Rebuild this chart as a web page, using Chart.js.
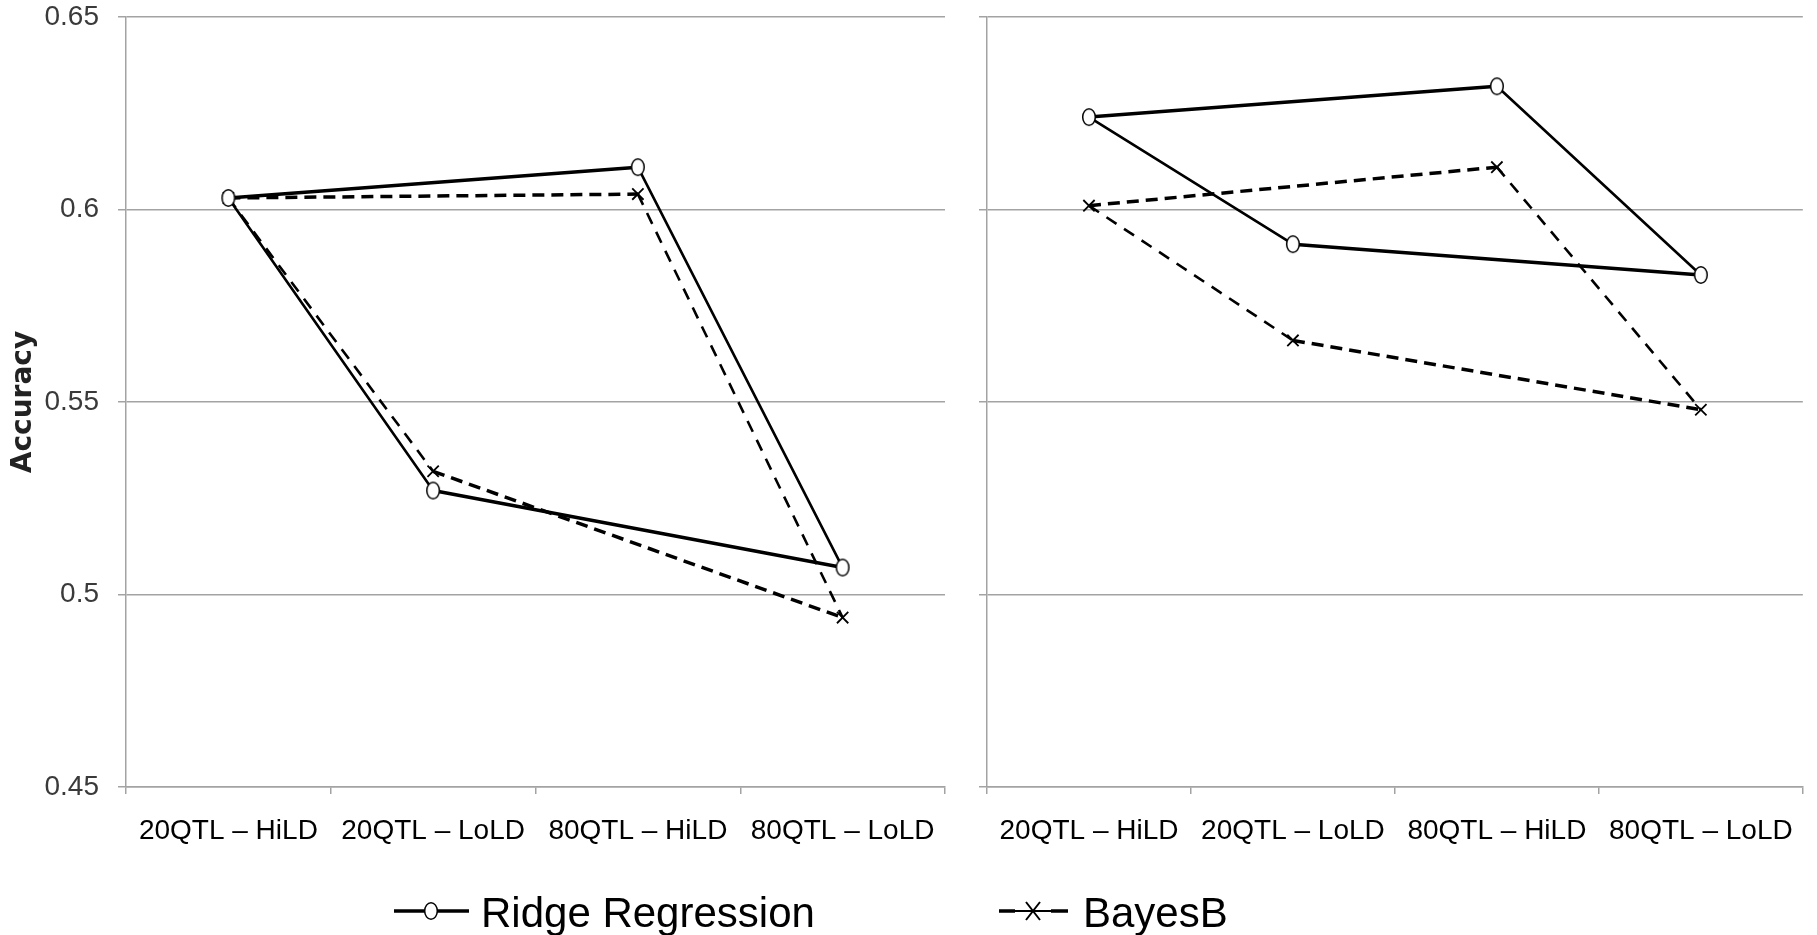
<!DOCTYPE html>
<html>
<head>
<meta charset="utf-8">
<script src="https://cdn.jsdelivr.net/npm/chart.js@4"></script>
<style>
  html, body { margin: 0; padding: 0; background: #fff; }
  #wrap { position: relative; width: 1817px; height: 935px; }
  #wrap canvas { position: absolute; top: 0; }
  #left-panel { left: 0; }
  #right-panel { left: 960px; }
</style>
</head>
<body>
<div id="wrap">
  <canvas id="left-panel" width="1817" height="935"></canvas>
  <canvas id="right-panel" width="857" height="935"></canvas>
</div>
<script>
const categories = ["20QTL – HiLD", "20QTL – LoLD", "80QTL – HiLD", "80QTL – LoLD"];
const yTicks = [0.45, 0.5, 0.55, 0.6, 0.65];
const seriesNames = ["Ridge Regression", "BayesB"];

// left panel
const leftRidge = [0.603, 0.527, 0.611, 0.507];
const leftBayes = [0.603, 0.532, 0.604, 0.494];
// right panel
const rightRidge = [0.624, 0.591, 0.632, 0.583];
const rightBayes = [0.601, 0.566, 0.611, 0.548];

// points are joined HiLD-HiLD / LoLD-LoLD and 20QTL-20QTL / 80QTL-80QTL
const levelPairs = [[0, 2], [1, 3]];
const slantPairs = [[0, 1], [2, 3]];

const sansFont = "'Liberation Sans', Arial, sans-serif";
const gridColor = "#a3a3a3";

// open marker, a bit taller than wide like in the original figure
function ringMarker() {
  const c = document.createElement("canvas");
  c.width = 16;
  c.height = 20;
  const g = c.getContext("2d");
  g.beginPath();
  g.ellipse(8, 10, 6.3, 8.3, 0, 0, Math.PI * 2);
  g.fillStyle = "#fff";
  g.fill();
  g.lineWidth = 1.5;
  g.strokeStyle = "#000";
  g.stroke();
  return c;
}
const ring = ringMarker();

function segments(values, pairs) {
  let pts = [];
  pairs.forEach(([a, b], i) => {
    if (i > 0) pts.push({ x: categories[a], y: null });
    pts.push({ x: categories[a], y: values[a] });
    pts.push({ x: categories[b], y: values[b] });
  });
  return pts;
}

function panelDatasets(ridge, bayes) {
  return [
    {
      label: seriesNames[0],
      data: segments(ridge, levelPairs),
      borderColor: "#000",
      borderWidth: 3.5,
      pointStyle: ring,
      pointRadius: 7,
    },
    {
      label: seriesNames[1],
      data: segments(bayes, levelPairs),
      borderColor: "#000",
      borderWidth: 3.5,
      borderDash: [12, 7],
      pointStyle: "crossRot",
      pointRadius: 8,
      pointBorderColor: "#000",
      pointBorderWidth: 1.8,
    },
    {
      label: seriesNames[0],
      data: segments(ridge, slantPairs),
      borderColor: "#000",
      borderWidth: 2.6,
      pointRadius: 0,
    },
    {
      label: seriesNames[1],
      data: segments(bayes, slantPairs),
      borderColor: "#000",
      borderWidth: 2.6,
      borderDash: [12, 9],
      pointRadius: 0,
    },
  ];
}

const sharedLegend = {
  id: "sharedLegend",
  afterDraw(chart, args, opts) {
    if (!opts.show) return;
    const ctx = chart.ctx;
    const y = 911;
    ctx.save();
    ctx.strokeStyle = "#000";

    // Ridge Regression: solid line with open marker
    ctx.lineWidth = 3.5;
    ctx.beginPath();
    ctx.moveTo(394, y);
    ctx.lineTo(469, y);
    ctx.stroke();
    ctx.drawImage(ring, 431 - ring.width / 2, y - ring.height / 2);

    // BayesB: short dashes with x
    ctx.beginPath();
    ctx.moveTo(999, y);
    ctx.lineTo(1015, y);
    ctx.moveTo(1051, y);
    ctx.lineTo(1068, y);
    ctx.stroke();
    ctx.lineWidth = 2;
    ctx.beginPath();
    ctx.moveTo(1026, y - 9);
    ctx.lineTo(1040, y + 9);
    ctx.moveTo(1040, y - 9);
    ctx.lineTo(1026, y + 9);
    ctx.moveTo(1015, y);
    ctx.lineTo(1051, y);
    ctx.stroke();

    ctx.fillStyle = "#000";
    ctx.font = "42px " + sansFont;
    ctx.textBaseline = "alphabetic";
    ctx.textAlign = "left";
    ctx.fillText(seriesNames[0], 481, 927);
    ctx.fillText(seriesNames[1], 1083, 927);
    ctx.restore();
  },
};

function makePanel(id, ridge, bayes, isLeft) {
  const ctx = document.getElementById(id).getContext("2d");
  return new Chart(ctx, {
    type: "line",
    data: {
      labels: categories,
      datasets: panelDatasets(ridge, bayes),
    },
    plugins: [sharedLegend],
    options: {
      responsive: false,
      animation: false,
      spanGaps: false,
      layout: {
        padding: { top: 17, right: isLeft ? 872 : 9, bottom: 88, left: 0 },
      },
      plugins: {
        legend: { display: false },
        tooltip: { enabled: false },
        sharedLegend: { show: isLeft },
      },
      scales: {
        x: {
          type: "category",
          offset: true,
          grid: {
            display: true,
            drawOnChartArea: false,
            drawTicks: true,
            tickLength: 7,
            offset: true,
            color: gridColor,
            lineWidth: 1.5,
          },
          border: { display: true, color: gridColor, width: 1.5 },
          ticks: {
            color: "#000",
            autoSkip: false,
            maxRotation: 0,
            padding: 23,
            font: { family: sansFont, size: 28, lineHeight: 1 },
          },
          afterFit: (s) => {
            s.height = 60;
          },
        },
        y: {
          min: 0.45,
          max: 0.65,
          afterBuildTicks: (s) => {
            s.ticks = yTicks.map((v) => ({ value: v }));
          },
          grid: {
            color: gridColor,
            lineWidth: 1.5,
            drawTicks: true,
            tickLength: 8,
          },
          border: { display: true, color: gridColor, width: 1.5 },
          ticks: {
            display: isLeft,
            color: "#3a3a3a",
            padding: 19,
            font: { family: sansFont, size: 28, lineHeight: 1 },
            callback: (v) => String(v),
          },
          title: {
            display: isLeft,
            text: "Accuracy",
            color: "#222",
            padding: { top: 7, bottom: 0 },
            font: { family: "'DejaVu Sans', Verdana, sans-serif", size: 28, weight: "bold" },
          },
          afterFit: (s) => {
            s.width = isLeft ? 126 : 27;
            s.paddingTop = 0;
            s.paddingBottom = 0;
          },
        },
      },
    },
  });
}

document.addEventListener("DOMContentLoaded", () => {
  makePanel("left-panel", leftRidge, leftBayes, true);
  makePanel("right-panel", rightRidge, rightBayes, false);
});
</script>
</body>
</html>
